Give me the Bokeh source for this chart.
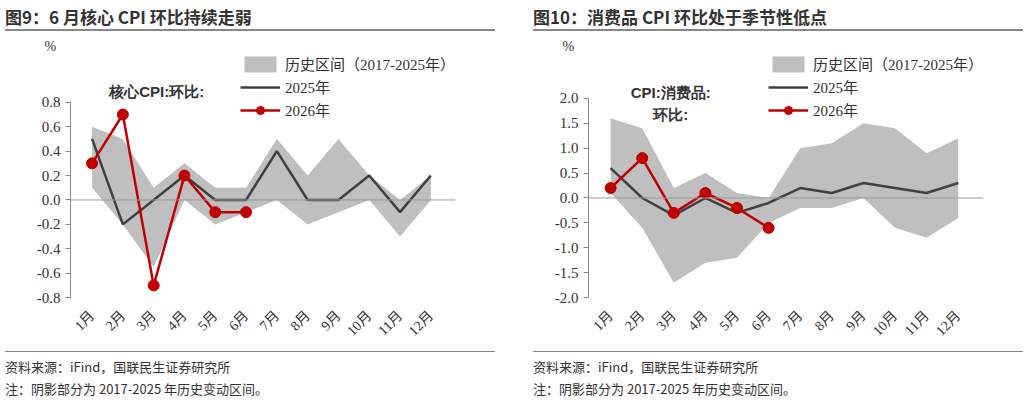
from bokeh.plotting import figure
from bokeh.layouts import row, column
from bokeh.models import Div, Span, FixedTicker, Legend, LegendItem, Title, PrintfTickFormatter
from bokeh.embed import file_html
from bokeh.resources import INLINE

months = ["1月", "2月", "3月", "4月", "5月", "6月", "7月", "8月", "9月", "10月", "11月", "12月"]
x = list(range(1, 13))

core_hi = [0.6, 0.5, 0.1, 0.3, 0.1, 0.1, 0.5, 0.2, 0.5, 0.2, 0.0, 0.2]
core_lo = [0.1, -0.2, -0.55, 0.0, -0.2, -0.1, 0.0, -0.2, -0.1, 0.0, -0.3, 0.0]
core_2025 = [0.5, -0.2, 0.0, 0.2, 0.0, 0.0, 0.4, 0.0, 0.0, 0.2, -0.1, 0.2]
core_2026 = [0.3, 0.7, -0.7, 0.2, -0.1, -0.1]

cons_hi = [1.6, 1.4, 0.2, 0.5, 0.1, 0.0, 1.0, 1.1, 1.5, 1.4, 0.9, 1.2]
cons_lo = [0.1, -0.6, -1.7, -1.3, -1.2, -0.5, -0.2, -0.2, 0.0, -0.6, -0.8, -0.4]
cons_2025 = [0.6, 0.0, -0.35, 0.0, -0.3, -0.1, 0.2, 0.1, 0.3, 0.2, 0.1, 0.3]
cons_2026 = [0.2, 0.8, -0.3, 0.1, -0.2, -0.6]

SERIF = "Liberation Serif, Noto Sans CJK SC"
CJK = "Noto Sans CJK SC"


def panel(title, hi, lo, s25, s26, ymin, ymax, step, top, label, lab_x, lab_y, left_border):
    t = Div(text=title, width=495, height=26,
            styles={"font-family": CJK, "font-weight": "bold", "font-size": "17px",
                    "color": "#333", "border-bottom": "2px solid #888", "width": "490px",
                    "padding-bottom": "2px"})
    p = figure(width=495, height=310, x_range=(0.3, 12.8), y_range=(ymin - 0.02 * (top - ymin), top),
               output_backend="svg", toolbar_location=None, tools="",
               min_border_left=left_border, min_border_right=40, min_border_top=0)
    p.outline_line_color = None
    p.grid.grid_line_color = None
    band = p.varea(x=x, y1=lo, y2=hi, fill_color="#bfbfbf")
    l25 = p.line(x, s25, line_color="#404040", line_width=2.5)
    l26 = p.line(x[:len(s26)], s26, line_color="#c00000", line_width=2.5)
    c26 = p.scatter(x[:len(s26)], s26, size=11, color="#c00000")
    p.add_layout(Span(location=0, dimension="width", line_color="#999", line_width=1))

    n = round((ymax - ymin) / step)
    ticks = [round(ymin + i * step, 2) for i in range(n + 1)]
    p.yaxis.ticker = FixedTicker(ticks=ticks)
    p.yaxis.bounds = (ymin, ymax)
    p.yaxis.formatter = PrintfTickFormatter(format="%.1f")
    p.yaxis.axis_line_color = "#888"
    p.yaxis.major_tick_line_color = "#888"
    p.yaxis.major_tick_in = 0
    p.yaxis.major_tick_out = 5
    p.yaxis.minor_tick_line_color = None
    p.yaxis.major_label_text_font = SERIF
    p.yaxis.major_label_text_font_size = "15px"
    p.yaxis.major_label_text_color = "#333"

    p.xaxis.ticker = FixedTicker(ticks=x)
    p.xaxis.major_label_overrides = {i + 1: m for i, m in enumerate(months)}
    p.xaxis.major_label_orientation = 0.785
    p.xaxis.axis_line_color = None
    p.xaxis.major_tick_line_color = None
    p.xaxis.minor_tick_line_color = None
    p.xaxis.major_label_text_font = SERIF
    p.xaxis.major_label_text_font_size = "14px"
    p.xaxis.major_label_text_color = "#333"

    p.add_layout(Title(text="%", align="left", offset=-26, text_font_size="14px",
                       text_color="#333", text_font=SERIF, text_font_style="normal",
                       standoff=0), "above")
    p.text(x=[lab_x], y=[lab_y], text=[label], text_font_size="15px", text_font_style="bold",
           text_color="#333", text_align="center", text_baseline="bottom", text_line_height=1.3)

    legend = Legend(items=[LegendItem(label="历史区间（2017-2025年）", renderers=[band]),
                           LegendItem(label="2025年", renderers=[l25]),
                           LegendItem(label="2026年", renderers=[l26, c26])],
                    location="top_right", background_fill_alpha=0, border_line_color=None,
                    label_text_font=SERIF, label_text_font_size="15px", label_text_color="#333",
                    glyph_width=40, spacing=2, margin=0, padding=4)
    p.add_layout(legend)

    notes = Div(text="资料来源：iFind，国联民生证券研究所<br>注：阴影部分为 2017-2025 年历史变动区间。",
                width=495, height=50,
                styles={"font-family": CJK, "font-size": "13px", "color": "#333",
                        "border-top": "1px solid #888", "width": "490px", "line-height": "22px",
                        "padding-top": "4px"})
    return column(t, p, notes, spacing=0)


left = panel("图9：6 月核心 CPI 环比持续走弱", core_hi, core_lo, core_2025, core_2026,
             -0.8, 0.8, 0.2, 1.2, "核心CPI:环比:", 3.1, 0.82, 70)
right = panel("图10：消费品 CPI 环比处于季节性低点", cons_hi, cons_lo, cons_2025, cons_2026,
              -2.0, 2.0, 0.5, 2.9, "CPI:消费品:\n环比:", 2.9, 1.5, 60)
layout = row(left, right, spacing=28)
open("out.html", "w").write(file_html(layout, INLINE))
